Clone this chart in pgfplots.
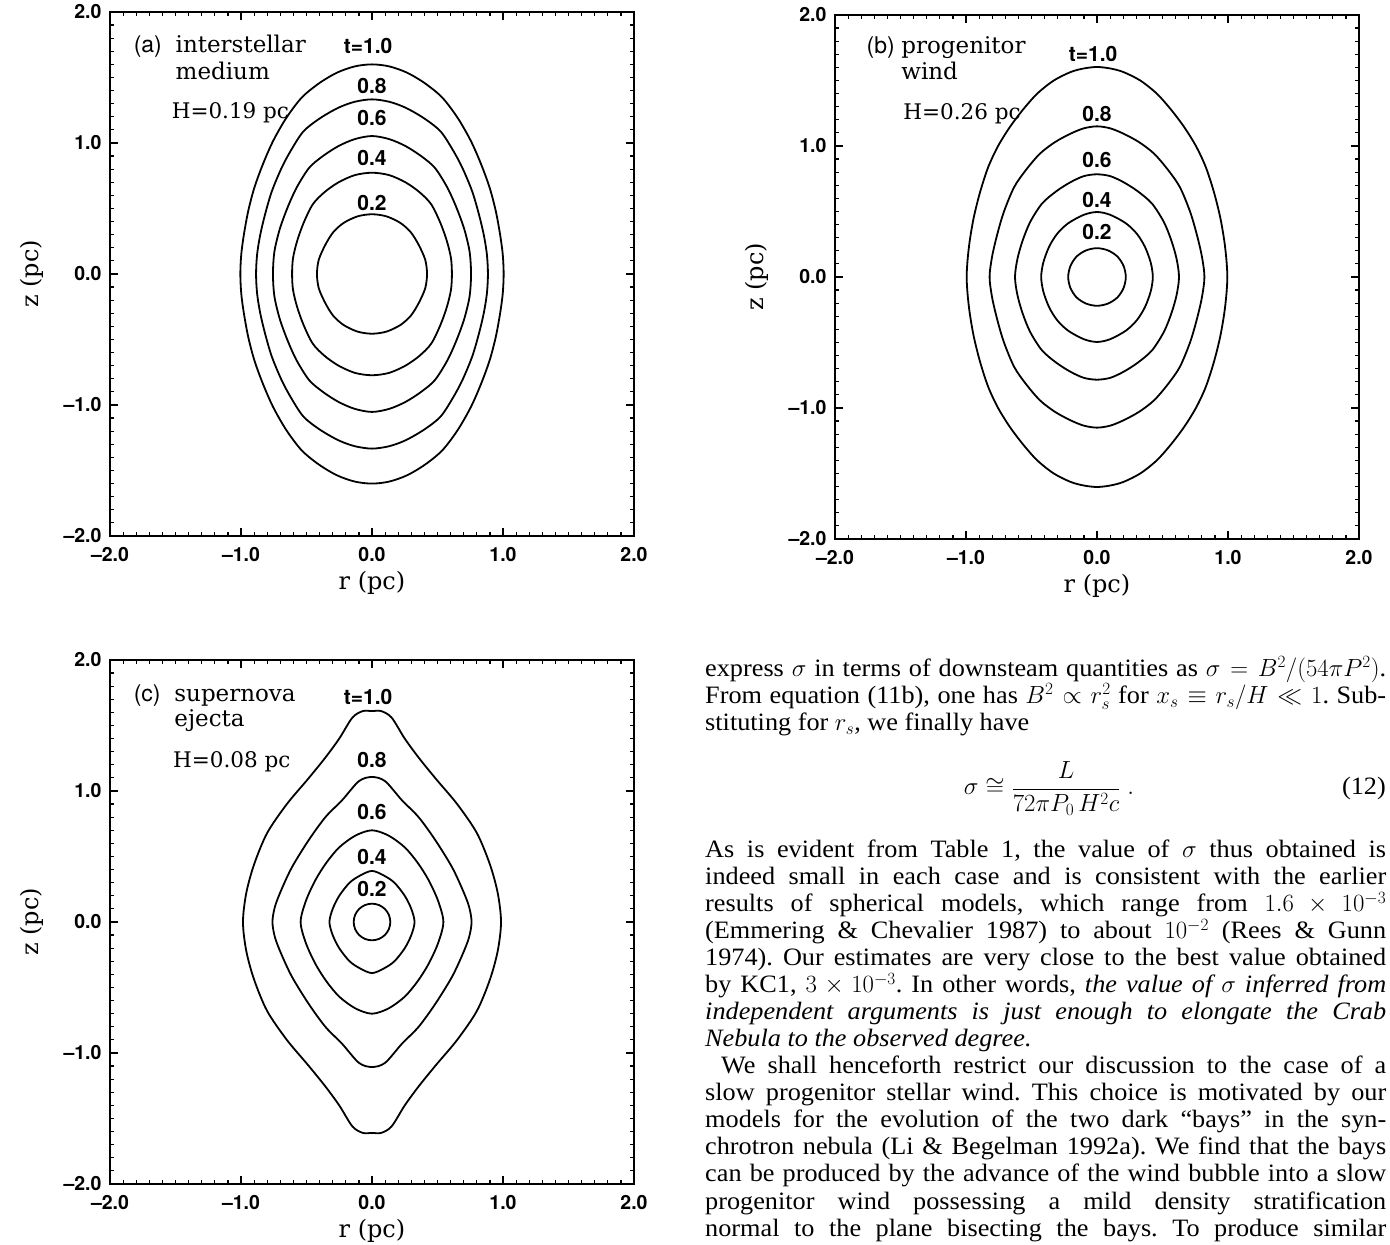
\documentclass[border=0pt]{standalone}
\usepackage{fontspec}
\setmainfont[FakeStretch=1.05]{Liberation Serif}
\newfontfamily\schfont{DejaVu Serif}
\newfontfamily\helvfont{TeX Gyre Heros}
\usepackage{pgfplots}
\pgfplotsset{compat=1.18}
\newcommand\tickfont{\helvfont\bfseries\fontsize{19.5bp}{22bp}\selectfont}
\newcommand\numfont{\helvfont\bfseries\fontsize{21bp}{24bp}\selectfont}
\newcommand\labfont{\schfont\fontsize{24bp}{28bp}\selectfont}
\newcommand\annfont{\schfont\fontsize{23bp}{27bp}\selectfont}
\newcommand\hfont{\schfont\fontsize{21.5bp}{26bp}\selectfont}
\newcommand\pfont{\helvfont\fontsize{23bp}{27bp}\selectfont}
\newcommand\bodyfont{\fontsize{25bp}{27bp}\selectfont\frenchspacing}
\pgfplotsset{
  panel/.style={
    anchor=south west, width=524bp, height=524bp, scale only axis,
    xmin=-2, xmax=2, ymin=-2, ymax=2,
    xtick={-2,-1,0,1,2}, ytick={-2,-1,0,1,2},
    xticklabels={\textendash2.0,\textendash1.0,0.0,1.0,2.0},
    yticklabels={\textendash2.0,\textendash1.0,0.0,1.0,2.0},
    minor tick num=9, tick align=inside, tick pos=both,
    major tick length=8bp, minor tick length=4bp,
    tick style={black, line width=1.2bp},
    axis line style={line width=2.4bp},
    xticklabel style={font=\tickfont, yshift=-8bp},
    yticklabel style={font=\tickfont, xshift=-5bp},
    xlabel={r (pc)}, ylabel={z (pc)},
    xlabel style={font=\labfont, at={(axis description cs:0.5,-0.09)}, anchor=center},
    ylabel style={font=\labfont, at={(axis description cs:-0.149,0.5)}, anchor=center},
    clip=false,
  },
  cont/.style={black, line width=1.8bp, mark=none, smooth cycle},
}
\begin{document}
\begin{tikzpicture}
\useasboundingbox (0,0) rectangle (1390bp,1245bp);
% ---------------- (a) ----------------
\begin{axis}[panel, at={(110bp,709bp)}]
\addplot[cont] coordinates {(0,1.60) (0.13,1.585) (0.267,1.537) (0.405,1.455) (0.537,1.346) (0.655,1.19) (0.755,1.015) (0.832,0.84) (0.898,0.659) (0.945,0.48) (0.978,0.30) (0.998,0.15) (1.005,0) (0.998,-0.15) (0.978,-0.30) (0.945,-0.48) (0.898,-0.659) (0.832,-0.84) (0.755,-1.015) (0.655,-1.19) (0.537,-1.346) (0.405,-1.455) (0.267,-1.537) (0.13,-1.585) (0,-1.60) (-0.13,-1.585) (-0.267,-1.537) (-0.405,-1.455) (-0.537,-1.346) (-0.655,-1.19) (-0.755,-1.015) (-0.832,-0.84) (-0.898,-0.659) (-0.945,-0.48) (-0.978,-0.30) (-0.998,-0.15) (-1.005,0) (-0.998,0.15) (-0.978,0.30) (-0.945,0.48) (-0.898,0.659) (-0.832,0.84) (-0.755,1.015) (-0.655,1.19) (-0.537,1.346) (-0.405,1.455) (-0.267,1.537) (-0.13,1.585)};
\addplot[cont] coordinates {(0,1.333) (0.13,1.315) (0.255,1.27) (0.395,1.19) (0.522,1.09) (0.615,0.95) (0.69,0.81) (0.765,0.63) (0.816,0.456) (0.853,0.30) (0.877,0.15) (0.885,0) (0.877,-0.15) (0.853,-0.30) (0.816,-0.456) (0.765,-0.63) (0.69,-0.81) (0.615,-0.95) (0.522,-1.09) (0.395,-1.19) (0.255,-1.27) (0.13,-1.315) (0,-1.333) (-0.13,-1.315) (-0.255,-1.27) (-0.395,-1.19) (-0.522,-1.09) (-0.615,-0.95) (-0.69,-0.81) (-0.765,-0.63) (-0.816,-0.456) (-0.853,-0.30) (-0.877,-0.15) (-0.885,0) (-0.877,0.15) (-0.853,0.30) (-0.816,0.456) (-0.765,0.63) (-0.69,0.81) (-0.615,0.95) (-0.522,1.09) (-0.395,1.19) (-0.255,1.27) (-0.13,1.315)};
\addplot[cont] coordinates {(0,1.053) (0.13,1.03) (0.255,0.977) (0.375,0.90) (0.48,0.81) (0.575,0.66) (0.645,0.506) (0.705,0.34) (0.745,0.17) (0.756,0) (0.745,-0.17) (0.705,-0.34) (0.645,-0.506) (0.575,-0.66) (0.48,-0.81) (0.375,-0.90) (0.255,-0.977) (0.13,-1.03) (0,-1.053) (-0.13,-1.03) (-0.255,-0.977) (-0.375,-0.90) (-0.48,-0.81) (-0.575,-0.66) (-0.645,-0.506) (-0.705,-0.34) (-0.745,-0.17) (-0.756,0) (-0.745,0.17) (-0.705,0.34) (-0.645,0.506) (-0.575,0.66) (-0.48,0.81) (-0.375,0.90) (-0.255,0.977) (-0.13,1.03)};
\addplot[cont] coordinates {(0,0.773) (0.13,0.755) (0.255,0.70) (0.362,0.625) (0.452,0.532) (0.522,0.39) (0.572,0.25) (0.603,0.12) (0.61,0) (0.603,-0.12) (0.572,-0.25) (0.522,-0.39) (0.452,-0.532) (0.362,-0.625) (0.255,-0.70) (0.13,-0.755) (0,-0.773) (-0.13,-0.755) (-0.255,-0.70) (-0.362,-0.625) (-0.452,-0.532) (-0.522,-0.39) (-0.572,-0.25) (-0.603,-0.12) (-0.61,0) (-0.603,0.12) (-0.572,0.25) (-0.522,0.39) (-0.452,0.532) (-0.362,0.625) (-0.255,0.70) (-0.13,0.755)};
\addplot[cont] coordinates {(0,0.456) (0.11,0.44) (0.216,0.39) (0.295,0.32) (0.354,0.227) (0.406,0.11) (0.42,0) (0.406,-0.11) (0.354,-0.227) (0.295,-0.32) (0.216,-0.39) (0.11,-0.44) (0,-0.456) (-0.11,-0.44) (-0.216,-0.39) (-0.295,-0.32) (-0.354,-0.227) (-0.406,-0.11) (-0.42,0) (-0.406,0.11) (-0.354,0.227) (-0.295,0.32) (-0.216,0.39) (-0.11,0.44)};
\node[font=\numfont, inner sep=0] at (axis cs:-0.03,1.74) {t=1.0};
\node[font=\numfont, inner sep=0] at (axis cs:0,1.435) {0.8};
\node[font=\numfont, inner sep=0] at (axis cs:0,1.19) {0.6};
\node[font=\numfont, inner sep=0] at (axis cs:0,0.888) {0.4};
\node[font=\numfont, inner sep=0] at (axis cs:0,0.544) {0.2};
\node[font=\pfont, inner sep=0, anchor=base west] at (axis cs:-1.82,1.69) {(a)};
\node[font=\annfont, inner sep=0, anchor=base west] at (axis cs:-1.50,1.69) {interstellar};
\node[font=\annfont, inner sep=0, anchor=base west] at (axis cs:-1.50,1.486) {medium};
\node[font=\hfont, inner sep=0, anchor=base west] at (axis cs:-1.53,1.19) {H=0.19 pc};
\end{axis}
% ---------------- (b) ----------------
\begin{axis}[panel, at={(835bp,706bp)}]
\addplot[cont] coordinates {(0,1.603) (0.10,1.592) (0.20,1.565) (0.33,1.50) (0.456,1.40) (0.563,1.28) (0.665,1.145) (0.755,1.0) (0.83,0.84) (0.892,0.65) (0.94,0.458) (0.971,0.28) (0.988,0.13) (0.995,0) (0.988,-0.13) (0.971,-0.28) (0.94,-0.458) (0.892,-0.65) (0.83,-0.84) (0.755,-1.0) (0.665,-1.145) (0.563,-1.28) (0.456,-1.40) (0.33,-1.50) (0.20,-1.565) (0.10,-1.592) (0,-1.603) (-0.10,-1.592) (-0.20,-1.565) (-0.33,-1.50) (-0.456,-1.40) (-0.563,-1.28) (-0.665,-1.145) (-0.755,-1.0) (-0.83,-0.84) (-0.892,-0.65) (-0.94,-0.458) (-0.971,-0.28) (-0.988,-0.13) (-0.995,0) (-0.988,0.13) (-0.971,0.28) (-0.94,0.458) (-0.892,0.65) (-0.83,0.84) (-0.755,1.0) (-0.665,1.145) (-0.563,1.28) (-0.456,1.40) (-0.33,1.50) (-0.20,1.565) (-0.10,1.592)};
\addplot[cont] coordinates {(0,1.15) (0.10,1.135) (0.20,1.095) (0.32,1.03) (0.435,0.942) (0.54,0.82) (0.632,0.687) (0.71,0.50) (0.76,0.331) (0.80,0.16) (0.82,0) (0.80,-0.16) (0.76,-0.331) (0.71,-0.50) (0.632,-0.687) (0.54,-0.82) (0.435,-0.942) (0.32,-1.03) (0.20,-1.095) (0.10,-1.135) (0,-1.15) (-0.10,-1.135) (-0.20,-1.095) (-0.32,-1.03) (-0.435,-0.942) (-0.54,-0.82) (-0.632,-0.687) (-0.71,-0.50) (-0.76,-0.331) (-0.80,-0.16) (-0.82,0) (-0.80,0.16) (-0.76,0.331) (-0.71,0.50) (-0.632,0.687) (-0.54,0.82) (-0.435,0.942) (-0.32,1.03) (-0.20,1.095) (-0.10,1.135)};
\addplot[cont] coordinates {(0,0.784) (0.10,0.77) (0.20,0.725) (0.31,0.655) (0.42,0.56) (0.51,0.42) (0.567,0.28) (0.607,0.14) (0.626,0) (0.607,-0.14) (0.567,-0.28) (0.51,-0.42) (0.42,-0.56) (0.31,-0.655) (0.20,-0.725) (0.10,-0.77) (0,-0.784) (-0.10,-0.77) (-0.20,-0.725) (-0.31,-0.655) (-0.42,-0.56) (-0.51,-0.42) (-0.567,-0.28) (-0.607,-0.14) (-0.626,0) (-0.607,0.14) (-0.567,0.28) (-0.51,0.42) (-0.42,0.56) (-0.31,0.655) (-0.20,0.725) (-0.10,0.77)};
\addplot[cont] coordinates {(0,0.496) (0.10,0.475) (0.22,0.41) (0.304,0.33) (0.366,0.23) (0.41,0.11) (0.426,0) (0.41,-0.11) (0.366,-0.23) (0.304,-0.33) (0.22,-0.41) (0.10,-0.475) (0,-0.496) (-0.10,-0.475) (-0.22,-0.41) (-0.304,-0.33) (-0.366,-0.23) (-0.41,-0.11) (-0.426,0) (-0.41,0.11) (-0.366,0.23) (-0.304,0.33) (-0.22,0.41) (-0.10,0.475)};
\addplot[cont] coordinates {(0,0.22) (0.084,0.203) (0.156,0.156) (0.203,0.084) (0.22,0) (0.203,-0.084) (0.156,-0.156) (0.084,-0.203) (0,-0.22) (-0.084,-0.203) (-0.156,-0.156) (-0.203,-0.084) (-0.22,0) (-0.203,0.084) (-0.156,0.156) (-0.084,0.203)};
\node[font=\numfont, inner sep=0] at (axis cs:-0.03,1.705) {t=1.0};
\node[font=\numfont, inner sep=0] at (axis cs:0,1.247) {0.8};
\node[font=\numfont, inner sep=0] at (axis cs:0,0.89) {0.6};
\node[font=\numfont, inner sep=0] at (axis cs:0,0.585) {0.4};
\node[font=\numfont, inner sep=0] at (axis cs:0,0.343) {0.2};
\node[font=\pfont, inner sep=0, anchor=base west] at (axis cs:-1.76,1.705) {(b)};
\node[font=\annfont, inner sep=0, anchor=base west] at (axis cs:-1.495,1.705) {progenitor};
\node[font=\annfont, inner sep=0, anchor=base west] at (axis cs:-1.495,1.507) {wind};
\node[font=\hfont, inner sep=0, anchor=base west] at (axis cs:-1.48,1.20) {H=0.26 pc};
\end{axis}
% ---------------- (c) ----------------
\begin{axis}[panel, at={(110bp,61bp)}]
\addplot[cont] coordinates {(0,1.61) (0.07,1.61) (0.15,1.56) (0.25,1.40) (0.36,1.25) (0.49,1.09) (0.65,0.90) (0.80,0.68) (0.90,0.44) (0.96,0.22) (0.985,0) (0.96,-0.22) (0.90,-0.44) (0.80,-0.68) (0.65,-0.90) (0.49,-1.09) (0.36,-1.25) (0.25,-1.40) (0.15,-1.56) (0.07,-1.61) (0,-1.61) (-0.07,-1.61) (-0.15,-1.56) (-0.25,-1.40) (-0.36,-1.25) (-0.49,-1.09) (-0.65,-0.90) (-0.80,-0.68) (-0.90,-0.44) (-0.96,-0.22) (-0.985,0) (-0.96,0.22) (-0.90,0.44) (-0.80,0.68) (-0.65,0.90) (-0.49,1.09) (-0.36,1.25) (-0.25,1.40) (-0.15,1.56) (-0.07,1.61)};
\addplot[cont] coordinates {(0,1.107) (0.10,1.075) (0.228,0.93) (0.356,0.80) (0.484,0.624) (0.61,0.42) (0.69,0.25) (0.74,0.12) (0.76,0) (0.74,-0.12) (0.69,-0.25) (0.61,-0.42) (0.484,-0.624) (0.356,-0.80) (0.228,-0.93) (0.10,-1.075) (0,-1.107) (-0.10,-1.075) (-0.228,-0.93) (-0.356,-0.80) (-0.484,-0.624) (-0.61,-0.42) (-0.69,-0.25) (-0.74,-0.12) (-0.76,0) (-0.74,0.12) (-0.69,0.25) (-0.61,0.42) (-0.484,0.624) (-0.356,0.80) (-0.228,0.93) (-0.10,1.075)};
\addplot[cont] coordinates {(0,0.70) (0.126,0.66) (0.25,0.57) (0.35,0.45) (0.433,0.318) (0.505,0.16) (0.545,0) (0.505,-0.16) (0.433,-0.318) (0.35,-0.45) (0.25,-0.57) (0.126,-0.66) (0,-0.70) (-0.126,-0.66) (-0.25,-0.57) (-0.35,-0.45) (-0.433,-0.318) (-0.505,-0.16) (-0.545,0) (-0.505,0.16) (-0.433,0.318) (-0.35,0.45) (-0.25,0.57) (-0.126,0.66)};
\addplot[cont] coordinates {(0,0.39) (0.09,0.355) (0.171,0.30) (0.25,0.20) (0.30,0.10) (0.325,0) (0.30,-0.10) (0.25,-0.20) (0.171,-0.30) (0.09,-0.355) (0,-0.39) (-0.09,-0.355) (-0.171,-0.30) (-0.25,-0.20) (-0.30,-0.10) (-0.325,0) (-0.30,0.10) (-0.25,0.20) (-0.171,0.30) (-0.09,0.355)};
\addplot[cont] coordinates {(0,0.14) (0.054,0.129) (0.099,0.099) (0.129,0.054) (0.14,0) (0.129,-0.054) (0.099,-0.099) (0.054,-0.129) (0,-0.14) (-0.054,-0.129) (-0.099,-0.099) (-0.129,-0.054) (-0.14,0) (-0.129,0.054) (-0.099,0.099) (-0.054,0.129)};
\node[font=\numfont, inner sep=0] at (axis cs:-0.03,1.717) {t=1.0};
\node[font=\numfont, inner sep=0] at (axis cs:0,1.234) {0.8};
\node[font=\numfont, inner sep=0] at (axis cs:0,0.84) {0.6};
\node[font=\numfont, inner sep=0] at (axis cs:0,0.496) {0.4};
\node[font=\numfont, inner sep=0] at (axis cs:0,0.255) {0.2};
\node[font=\pfont, inner sep=0, anchor=base west] at (axis cs:-1.82,1.685) {(c)};
\node[font=\annfont, inner sep=0, anchor=base west] at (axis cs:-1.51,1.685) {supernova};
\node[font=\annfont, inner sep=0, anchor=base west] at (axis cs:-1.51,1.489) {ejecta};
\node[font=\hfont, inner sep=0, anchor=base west] at (axis cs:-1.52,1.183) {H=0.08 pc};
\end{axis}
% ---------------- text column ----------------
\begin{scope}[every node/.style={anchor=base west, inner sep=0, font=\bodyfont}]
\node at (705bp,568bp) {\makebox[681bp][s]{express $\sigma$ in terms of downsteam quantities as $\sigma = B^2/(54\pi P^2)$.}};
\node at (705bp,541.2bp) {\makebox[681bp][s]{From equation (11b), one has $B^2 \propto r_s^2$ for $x_s \equiv r_s/H \ll 1$. Sub-}};
\node at (705bp,514.4bp) {\makebox[681bp][l]{stituting for $r_s$, we finally have}};
\node[anchor=base] at (1049bp,450bp) {$\displaystyle \sigma \cong \frac{L}{72\pi P_0\,H^2 c}\;.$};
\node[anchor=base east] at (1386bp,450bp) {(12)};
\node at (705bp,387bp) {\makebox[681bp][s]{As is evident from Table 1, the value of $\sigma$ thus obtained is}};
\node at (705bp,360bp) {\makebox[681bp][s]{indeed small in each case and is consistent with the earlier}};
\node at (705bp,333bp) {\makebox[681bp][s]{results of spherical models, which range from $1.6\times10^{-3}$}};
\node at (705bp,306bp) {\makebox[681bp][s]{(Emmering \& Chevalier 1987) to about $10^{-2}$ (Rees \& Gunn}};
\node at (705bp,279bp) {\makebox[681bp][s]{1974). Our estimates are very close to the best value obtained}};
\node at (705bp,252bp) {\makebox[681bp][s]{by KC1, $3\times10^{-3}$. In other words, \itshape the value of $\sigma$ inferred from}};
\node at (705bp,225bp) {\makebox[681bp][s]{\itshape independent arguments is just enough to elongate the Crab}};
\node at (705bp,198bp) {\makebox[681bp][l]{\itshape Nebula to the observed degree.}};
\node at (705bp,171bp) {\makebox[681bp][s]{\hspace*{16bp}We shall henceforth restrict our discussion to the case of a}};
\node at (705bp,144bp) {\makebox[681bp][s]{slow progenitor stellar wind. This choice is motivated by our}};
\node at (705bp,117bp) {\makebox[681bp][s]{models for the evolution of the two dark “bays” in the syn-}};
\node at (705bp,90bp) {\makebox[681bp][s]{chrotron nebula (Li \& Begelman 1992a). We find that the bays}};
\node at (705bp,63bp) {\makebox[681bp][s]{can be produced by the advance of the wind bubble into a slow}};
\node at (705bp,36bp) {\makebox[681bp][s]{progenitor wind possessing a mild density stratification}};
\node at (705bp,9bp) {\makebox[681bp][s]{normal to the plane bisecting the bays. To produce similar}};
\end{scope}
\end{tikzpicture}
\end{document}
